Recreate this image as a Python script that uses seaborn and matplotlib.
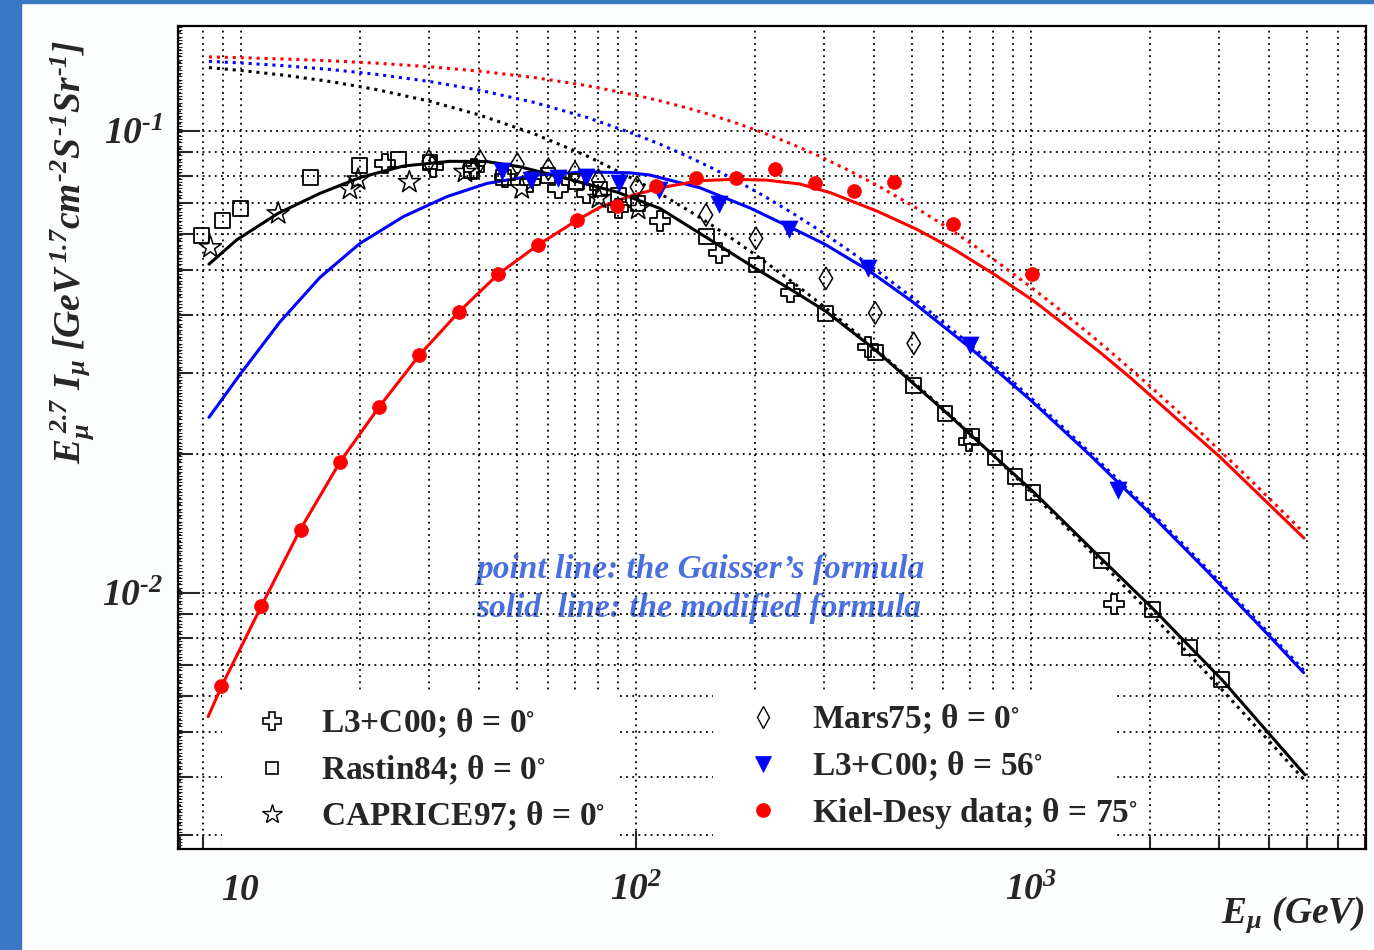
import numpy as np
import matplotlib
matplotlib.use("Agg")
import matplotlib.pyplot as plt
import matplotlib.ticker as mticker
from matplotlib.lines import Line2D
from matplotlib.patches import Rectangle
import seaborn as sns

# ---------------- measured spectra: E_mu [GeV], E^2.7 * I_mu ----------------
rastin84_E = [7.95, 8.99, 10.0, 15.0, 20.0, 25.1, 30.1, 38.4, 46.1, 59.9, 70.8, 81.1,
              90.2, 101.2, 150.9, 201.6, 302.7, 403.5, 504, 605.8, 707.7, 811, 911,
              1012, 1510, 2028, 2526, 3040]
rastin84_v = [0.0594, 0.0640, 0.0679, 0.0792, 0.0844, 0.0868, 0.0857, 0.0823, 0.0792,
              0.0800, 0.0779, 0.0749, 0.0727, 0.0698, 0.0590, 0.0513, 0.0403, 0.0331,
              0.0281, 0.0245, 0.0218, 0.0196, 0.0179, 0.0165, 0.01175, 0.00922,
              0.00763, 0.00650]

l3c_0_E = [23.15, 30.6, 38.9, 46.6, 53.9, 63.6, 75.0, 90.2, 115.0, 162.5, 246.4,
           387.3, 696.6, 1623]
l3c_0_v = [0.0851, 0.0836, 0.0827, 0.0796, 0.0775, 0.0751, 0.0732, 0.0680, 0.0639,
           0.0545, 0.0447, 0.0341, 0.0213, 0.00947]

caprice97_E = [8.37, 12.43, 18.88, 19.8, 26.7, 36.9, 51.4, 80.6, 101.3]
caprice97_v = [0.0560, 0.0663, 0.0749, 0.0785, 0.0775, 0.0815, 0.0751, 0.0716, 0.0678]

mars75_E = [29.9, 40.3, 50.1, 60.0, 70.1, 80.3, 100.6, 150.4, 201.3, 302.7, 403.5, 505]
mars75_v = [0.0861, 0.0861, 0.0848, 0.0827, 0.0813, 0.0783, 0.0756, 0.0658, 0.0586,
            0.0480, 0.0404, 0.0347]

l3c_56_E = [45.7, 54.1, 63.5, 74.7, 90.6, 114.7, 162.0, 244.4, 387.3, 700.8, 1663]
l3c_56_v = [0.0821, 0.0785, 0.0792, 0.0795, 0.0772, 0.0746, 0.0694, 0.0614, 0.0506,
            0.0344, 0.0167]

kiel_E = [8.93, 11.27, 14.16, 17.8, 22.4, 28.25, 35.6, 44.8, 56.4, 71.1, 89.3, 112.7,
          141.9, 179.1, 225.4, 283.8, 357.3, 449, 633, 1005]
kiel_v = [0.00629, 0.00939, 0.0137, 0.0192, 0.0253, 0.0327, 0.0405, 0.0490, 0.0566,
          0.0642, 0.0688, 0.0760, 0.0790, 0.0790, 0.0826, 0.0773, 0.0743, 0.0777,
          0.0628, 0.0490]

# ---------------- Gaisser parametrisation (dotted) ----------------
gaisser_E = [8.3, 10, 13, 17, 22, 30, 40, 55, 75, 100, 115, 135, 155, 180, 210, 250,
             290, 350, 410, 500, 590, 700, 830, 1000, 1180, 1400, 1650, 2000, 2350,
             2800, 3400, 4000, 4900]
gaisser_0 = [0.13718, 0.13524, 0.13195, 0.12782, 0.12301, 0.11606, 0.10845, 0.09880,
             0.08841, 0.07825, 0.073247, 0.06754, 0.062689, 0.05757, 0.052476, 0.04699,
             0.042594, 0.03740, 0.033385, 0.02880, 0.025360, 0.02216, 0.019306,
             0.016546, 0.014386, 0.012417, 0.010753, 0.009062, 0.007834, 0.006674,
             0.005576, 0.004790, 0.003954]
gaisser_56 = [0.14156, 0.14040, 0.13839, 0.13580, 0.13270, 0.12804, 0.12267, 0.11545,
              0.10709, 0.09826, 0.093660, 0.08818, 0.083339, 0.07802, 0.072500, 0.06630,
              0.061126, 0.05478, 0.049676, 0.04365, 0.038986, 0.03453, 0.030461,
              0.02644, 0.023225, 0.02025, 0.017694, 0.015057, 0.013116, 0.011261,
              0.009482, 0.008193, 0.006808]
gaisser_75 = [0.14472, 0.14415, 0.14316, 0.14186, 0.14027, 0.13781, 0.13485, 0.13064,
              0.12545, 0.11953, 0.116254, 0.11216, 0.108363, 0.10397, 0.099175, 0.09346,
              0.088383, 0.08177, 0.076125, 0.06904, 0.063208, 0.05735, 0.051745,
              0.04594, 0.041121, 0.03649, 0.032401, 0.02805, 0.024764, 0.02155,
              0.018401, 0.016072, 0.013524]

# ---------------- modified formula (solid) ----------------
mod0_E = [8.3, 9.75, 12.4, 15.85, 20, 25.8, 33.8, 41.9, 50.8, 61.7, 75, 89.4, 115,
          151, 201, 260, 303, 403.5, 612, 1013, 1510, 2028, 3040, 4940]
mod0_v = [0.0515, 0.0581, 0.0663, 0.0733, 0.0793, 0.0840, 0.0860, 0.0859, 0.0837,
          0.0803, 0.0768, 0.0738, 0.0680, 0.0588, 0.0504, 0.04416, 0.04067, 0.0336,
          0.02453, 0.01658, 0.01185, 0.00928, 0.00650, 0.00404]

mod56_E = [8.3, 9.94, 12.55, 15.85, 20, 25.8, 33.2, 41.9, 56.1, 75, 96.6, 108.5, 145,
           194, 244, 300, 387, 500, 700, 1000, 1400, 2000, 2800, 4000, 4900]
mod56_v = [0.0240, 0.0297, 0.0386, 0.0482, 0.0571, 0.0653, 0.0721, 0.0770, 0.0803,
           0.0816, 0.0812, 0.0803, 0.0754, 0.0682, 0.0621, 0.05696, 0.0500, 0.04278,
           0.0340, 0.02612, 0.02001, 0.014876, 0.011126, 0.008095, 0.006726]

mod75_E = [8.26, 8.94, 11.28, 14.11, 17.81, 22.39, 28.28, 35.53, 44.8, 56.4, 71.1,
           81.1, 98.4, 119.6, 145.2, 176.3, 214.2, 260.1, 309.8, 407.5, 511.5, 642.2,
           806, 1012, 1231, 1495, 1781, 3010, 4910]
mod75_v = [0.00540, 0.00629, 0.00939, 0.01369, 0.0192, 0.0253, 0.0327, 0.0405,
           0.0490, 0.0566, 0.0642, 0.0684, 0.0727, 0.0758, 0.0781, 0.0786, 0.0783,
           0.0768, 0.0736, 0.0671, 0.0614, 0.0553, 0.0490, 0.0430, 0.0378, 0.0332,
           0.0293, 0.0197, 0.01315]

x_ticks = [10, 100, 1000]
x_tick_labels = [r"$10$", r"$10^{2}$", r"$10^{3}$"]
y_ticks = [0.01, 0.1]
y_tick_labels = ["$10^{\u20102}$", "$10^{\u20101}$"]

# ---------------- style ----------------
sns.set_style("ticks")
plt.rcParams.update({
    "font.family": ["Liberation Serif", "DejaVu Serif"],
    "mathtext.fontset": "custom",
    "mathtext.rm": "Liberation Serif:bold:italic",
    "mathtext.it": "Liberation Serif:bold:italic",
    "mathtext.bf": "Liberation Serif:bold:italic",
    "mathtext.fallback": "stix",
})

W, H = 1374, 950
fig = plt.figure(figsize=(W / 100, H / 100), dpi=100)
fig.patch.set_facecolor("#fcfefe")

# slide frame
fig.add_artist(Rectangle((0, 0), 21 / W, 1, transform=fig.transFigure,
                         color="#3b78c4", zorder=-5))
fig.add_artist(Rectangle((0, 1 - 3 / H), 1, 3 / H, transform=fig.transFigure,
                         color="#3b78c4", zorder=-5))

ax = fig.add_axes([178 / W, 1 - 849 / H, (1366 - 178) / W, (849 - 26) / H])
ax.set_facecolor("white")
ax.set_xscale("log")
ax.set_yscale("log")
ax.set_xlim(6.93, 7050)
ax.set_ylim(0.002792, 0.1688)

BLUE = "#0000ff"
RED = "#ff0000"
dot = (0, (1, 1.6))

# Gaisser curves
for v, c in [(gaisser_0, "black"), (gaisser_56, BLUE), (gaisser_75, RED)]:
    sns.lineplot(x=gaisser_E, y=v, ax=ax, color=c, lw=2.2, linestyle=dot,
                 estimator=None, errorbar=None, legend=False, zorder=3)

# modified formula curves
for E, v, c in [(mod0_E, mod0_v, "black"), (mod56_E, mod56_v, BLUE),
                (mod75_E, mod75_v, RED)]:
    sns.lineplot(x=E, y=v, ax=ax, color=c, lw=2.2, estimator=None,
                 errorbar=None, legend=False, zorder=3)

# data points
open_kw = dict(color="black", facecolors="none", edgecolor="black", legend=False,
               zorder=5)
sns.scatterplot(x=rastin84_E, y=rastin84_v, marker="s", s=115, linewidth=1.3, ax=ax,
                **open_kw)
sns.scatterplot(x=l3c_0_E, y=l3c_0_v, marker="P", s=200, linewidth=1.3, ax=ax,
                **open_kw)
sns.scatterplot(x=caprice97_E, y=caprice97_v, marker="*", s=280, linewidth=1.1, ax=ax,
                **open_kw)
sns.scatterplot(x=mars75_E, y=mars75_v, marker="d", s=130, linewidth=1.1, ax=ax,
                **open_kw)
sns.scatterplot(x=l3c_56_E, y=l3c_56_v, marker="v", s=150, color=BLUE,
                edgecolor=BLUE, linewidth=0.5, legend=False, zorder=6, ax=ax)
sns.scatterplot(x=kiel_E, y=kiel_v, marker="o", s=100, color=RED, edgecolor=RED,
                linewidth=0.5, legend=False, zorder=6, ax=ax)

# ticks
minor_x = [k * 10 ** n for n in range(0, 4) for k in range(2, 10)]
minor_x = [m for m in minor_x if 6.93 < m < 7050]
ax.xaxis.set_major_locator(mticker.FixedLocator(x_ticks))
ax.xaxis.set_major_formatter(mticker.FixedFormatter(x_tick_labels))
ax.xaxis.set_minor_locator(mticker.FixedLocator(minor_x))
ax.xaxis.set_minor_formatter(mticker.NullFormatter())
minor_y = [k * 10.0 ** n for n in range(-3, 0) for k in range(2, 10)]
minor_y = [m for m in minor_y if 0.002792 < m < 0.1688]
ax.yaxis.set_major_locator(mticker.FixedLocator(y_ticks))
ax.yaxis.set_major_formatter(mticker.FixedFormatter(y_tick_labels))
ax.yaxis.set_minor_locator(mticker.FixedLocator(minor_y))
ax.yaxis.set_minor_formatter(mticker.NullFormatter())

ax.tick_params(axis="x", which="major", direction="in", length=13, width=1.5,
               labelsize=27, pad=18, top=False)
ax.tick_params(axis="x", which="minor", direction="in", length=9, width=1.5, top=False)
ax.tick_params(axis="y", which="major", direction="in", length=16, width=1.5,
               labelsize=27, pad=11, right=False)
ax.tick_params(axis="y", which="minor", direction="in", length=11, width=1.5,
               right=False)

# fine ticks along the log axis
sec = ax.secondary_yaxis("left")
sec.yaxis.set_major_locator(mticker.FixedLocator(10 ** np.arange(-2.56, -0.77, 1 / 140)))
sec.yaxis.set_minor_locator(mticker.NullLocator())
sec.tick_params(axis="y", which="major", direction="in", length=3, width=0.8,
                labelleft=False)
sec.spines["left"].set_visible(False)

for s in ax.spines.values():
    s.set_linewidth(1.6)
    s.set_color("black")

ax.set_axisbelow(True)
ax.grid(which="both", color="black", linestyle=(0, (1, 2.4)), linewidth=1.3)

# legend backgrounds hide the grid
for x0, x1 in [(222, 620), (713, 1116)]:
    ax.add_patch(Rectangle(((x0 - 178) / 1188, 0), (x1 - x0) / 1188, (849 - 693) / 823,
                           transform=ax.transAxes, facecolor="white",
                           edgecolor="none", zorder=1))

def proxy(marker, ms, mfc, mec, mew):
    return Line2D([], [], ls="none", marker=marker, ms=ms, mfc=mfc, mec=mec, mew=mew)

leg_kw = dict(loc="upper left", frameon=False, handlelength=1.0,
              handletextpad=0.97, labelspacing=0.39, borderpad=0.0, borderaxespad=0.0,
              prop={"family": "Liberation Serif", "weight": "bold", "size": 24})
leg1 = ax.legend([proxy("P", 13, "none", "black", 1.2),
                  proxy("s", 9, "none", "black", 1.2),
                  proxy("*", 15, "none", "black", 1.0)],
                 [r"L3+C00; θ = 0$^{\circ}$", r"Rastin84; θ = 0$^{\circ}$",
                  r"CAPRICE97; θ = 0$^{\circ}$"],
                 bbox_to_anchor=((255.3 - 178) / 1188, (849 - 707) / 823), **leg_kw)
ax.add_artist(leg1)
ax.legend([proxy("d", 11, "none", "black", 1.0),
           proxy("v", 11, BLUE, BLUE, 0.5),
           proxy("o", 10, RED, RED, 0.5)],
          [r"Mars75; θ = 0$^{\circ}$", r"L3+C00; θ = 56$^{\circ}$",
           r"Kiel-Desy data; θ = 75$^{\circ}$"],
          bbox_to_anchor=((746.3 - 178) / 1188, (849 - 703) / 823), **leg_kw)

# annotation
ax.text((476 - 178) / 1188, (849 - 578) / 823, "point line: the Gaisser\u2019s formula",
        transform=ax.transAxes, color="#4a6fdf", fontsize=24, style="italic",
        weight="bold", zorder=0.3)
ax.text((476 - 178) / 1188, (849 - 617) / 823, "solid  line: the modified formula",
        transform=ax.transAxes, color="#4a6fdf", fontsize=24, style="italic",
        weight="bold", zorder=0.3)

# axis titles
fig.text(1365 / W, 1 - 923 / H, r"$E_{\mu}\ (GeV)$", ha="right", va="baseline",
         fontsize=27)
fig.text(72 / W, 1 - 252 / H,
         "$E_{\\mu}^{\\,2.7}\\ I_{\\mu}\\ [GeV^{\\,1.7}cm^{\u20102}S^{\u20101}Sr^{\u20101}]$",
         rotation=90, ha="center", va="center", fontsize=27)

fig.savefig("out.png", dpi=100, facecolor=fig.get_facecolor())
